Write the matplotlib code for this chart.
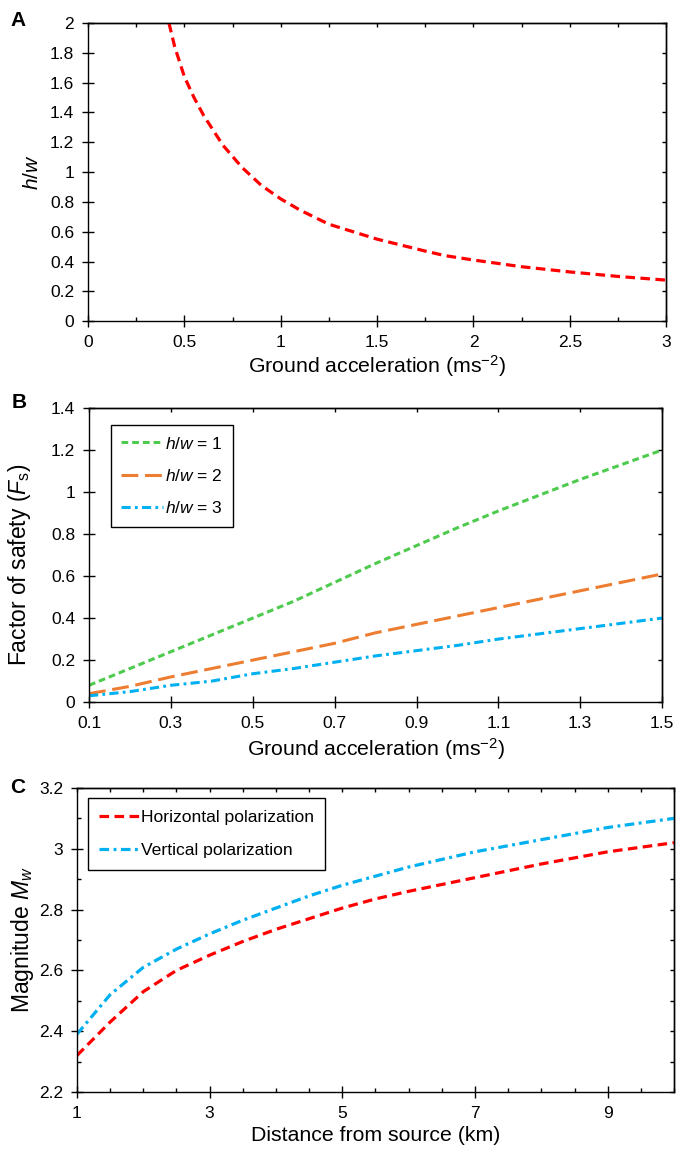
import matplotlib
matplotlib.use("Agg")
import matplotlib.pyplot as plt
from matplotlib.ticker import MultipleLocator, FixedLocator

plt.rcParams['font.family'] = ['Liberation Sans', 'DejaVu Sans']
plt.rcParams['mathtext.fontset'] = 'custom'
plt.rcParams['mathtext.rm'] = 'Liberation Sans'
plt.rcParams['mathtext.it'] = 'Liberation Sans:italic'
plt.rcParams['axes.linewidth'] = 1.0

# панель A: h/w от ускорения
acc_a = [0.42, 0.45, 0.5, 0.55, 0.6, 0.7, 0.8, 0.9, 1.0, 1.1, 1.25, 1.5, 1.75, 1.85, 2.0, 2.25, 2.5, 2.75, 3.0]
hw_a = [2.0, 1.84, 1.64, 1.5, 1.38, 1.18, 1.03, 0.91, 0.82, 0.745, 0.65, 0.55, 0.47, 0.44, 0.41, 0.365, 0.33, 0.3, 0.275]

# панель B: коэффициент запаса
acc_b = [0.1, 0.2, 0.3, 0.4, 0.5, 0.6, 0.7, 0.8, 0.9, 1.0, 1.1, 1.2, 1.3, 1.4, 1.5]
fs_hw1 = [0.08, 0.16, 0.24, 0.32, 0.40, 0.48, 0.57, 0.66, 0.745, 0.83, 0.91, 0.985, 1.06, 1.13, 1.2]
fs_hw2 = [0.04, 0.075, 0.12, 0.16, 0.2, 0.24, 0.28, 0.33, 0.37, 0.41, 0.45, 0.49, 0.53, 0.57, 0.61]
fs_hw3 = [0.03, 0.05, 0.08, 0.10, 0.135, 0.16, 0.19, 0.22, 0.245, 0.27, 0.30, 0.325, 0.35, 0.375, 0.40]

# панель C: магнитуда от расстояния
dist = [1, 1.5, 2, 2.5, 3, 3.5, 4, 4.5, 5, 5.5, 6, 7, 8, 9, 10]
mw_hor = [2.32, 2.43, 2.53, 2.60, 2.65, 2.695, 2.735, 2.77, 2.805, 2.835, 2.86, 2.905, 2.95, 2.99, 3.02]
mw_ver = [2.39, 2.52, 2.61, 2.67, 2.72, 2.765, 2.805, 2.845, 2.88, 2.91, 2.94, 2.99, 3.03, 3.07, 3.10]

RED = '#FF0000'
GREEN = '#4ECB4E'
ORANGE = '#ED7D31'
BLUE = '#00B0F0'

fig = plt.figure(figsize=(6.77, 11.51), dpi=100)
axA = fig.add_axes([0.130, 0.721, 0.854, 0.259])
axB = fig.add_axes([0.1315, 0.390, 0.8465, 0.2555])
axC = fig.add_axes([0.1137, 0.0513, 0.8819, 0.2641])

fmt = plt.FuncFormatter(lambda v, p: f'{v:g}')


def style(ax, xmaj, xmin, ymaj, ymin):
    ax.xaxis.set_major_locator(xmaj)
    ax.yaxis.set_major_locator(ymaj)
    if xmin is not None:
        ax.xaxis.set_minor_locator(xmin)
    if ymin is not None:
        ax.yaxis.set_minor_locator(ymin)
    ax.xaxis.set_major_formatter(fmt)
    ax.yaxis.set_major_formatter(fmt)
    ax.tick_params(which='major', direction='inout', length=8, width=1.0,
                   labelsize=12.5, pad=6)
    ax.tick_params(which='minor', direction='in', length=3, width=1.0)
    # верх и право - засечки внутрь
    top = ax.secondary_xaxis('top')
    right = ax.secondary_yaxis('right')
    top.xaxis.set_major_locator(xmin if xmin is not None else xmaj)
    right.yaxis.set_major_locator(ymin if ymin is not None else ymaj)
    top.tick_params(direction='in', length=3, width=1.0, labeltop=False)
    right.tick_params(direction='in', length=3, width=1.0, labelright=False)


# A
axA.plot(acc_a, hw_a, color=RED, lw=2.3, dashes=(3, 1.7))
axA.set_xlim(0, 3)
axA.set_ylim(0, 2)
style(axA, MultipleLocator(0.5), MultipleLocator(0.25), MultipleLocator(0.2), None)
axA.set_xlabel('Ground acceleration (ms$^{\u2212 2}$)', fontsize=15.3, labelpad=2)
axA.set_ylabel('$h$/$w$', fontsize=15, labelpad=6)
fig.text(0.015, 0.9818, 'A', fontsize=15, fontweight='bold', va='center')

# B
axB.plot(acc_b, fs_hw1, color=GREEN, lw=2.2, dashes=(2.2, 1.3), label='$h$/$w$ = 1')
axB.plot(acc_b, fs_hw2, color=ORANGE, lw=2.2, dashes=(5.5, 2.2), label='$h$/$w$ = 2')
axB.plot(acc_b, fs_hw3, color=BLUE, lw=2.2, dashes=(3, 1.4, 0.9, 1.4), label='$h$/$w$ = 3')
axB.set_xlim(0.1, 1.5)
axB.set_ylim(0, 1.4)
style(axB, FixedLocator([0.1, 0.3, 0.5, 0.7, 0.9, 1.1, 1.3, 1.5]), None, MultipleLocator(0.2), None)
axB.set_xlabel('Ground acceleration (ms$^{\u2212 2}$)', fontsize=15.3, labelpad=4)
axB.set_ylabel('Factor of safety ($F_{\\mathrm{s}}$)', fontsize=16.5)
axB.yaxis.set_label_coords(-0.098, 0.466)
legB = axB.legend(loc='upper left', bbox_to_anchor=(0.038, 0.942), fontsize=12.5,
                  fancybox=False, edgecolor='black', framealpha=1, handlelength=2.4,
                  handletextpad=0.1, borderpad=0.6, labelspacing=0.95, borderaxespad=0)
legB.get_frame().set_linewidth(1.0)
fig.text(0.017, 0.6507, 'B', fontsize=15, fontweight='bold', va='center')

# C
axC.plot(dist, mw_hor, color=RED, lw=2.3, dashes=(3, 1.7), label='Horizontal polarization')
axC.plot(dist, mw_ver, color=BLUE, lw=2.3, dashes=(3, 1.4, 0.9, 1.4), label='Vertical polarization')
axC.set_xlim(1, 10)
axC.set_ylim(2.2, 3.2)
style(axC, FixedLocator([1, 3, 5, 7, 9]), MultipleLocator(0.5), MultipleLocator(0.2), MultipleLocator(0.1))
axC.set_xlabel('Distance from source (km)', fontsize=15.3, labelpad=4)
axC.set_ylabel('Magnitude $M_w$', fontsize=16.5, labelpad=2)
legC = axC.legend(loc='upper left', bbox_to_anchor=(0.018, 0.967), fontsize=12.6,
                  fancybox=False, edgecolor='black', framealpha=1, handlelength=2.3,
                  handletextpad=0.1, borderpad=0.65, labelspacing=1.05, borderaxespad=0)
legC.get_frame().set_linewidth(1.0)
fig.text(0.015, 0.3154, 'C', fontsize=15, fontweight='bold', va='center')

fig.savefig('out.png', dpi=100)
